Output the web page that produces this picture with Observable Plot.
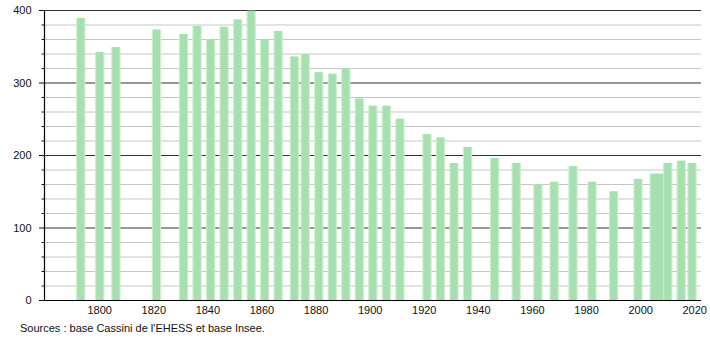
<!DOCTYPE html>
<html>
<head>
<meta charset="utf-8">
<script src="https://cdn.jsdelivr.net/npm/d3@7"></script>
<script src="https://cdn.jsdelivr.net/npm/@observablehq/plot@0.6"></script>
<style>
  body { margin: 0; background: #fff; font-family: "Liberation Sans", Arial, sans-serif; }
  #caption { font-size: 11px; color: #111; margin: 1px 0 0 20px; line-height: 14px; }
</style>
</head>
<body>
<div id="chart"></div>
<div id="caption">Sources : base Cassini de l'EHESS et base Insee.</div>
<script>
const years = [1793,1800,1806,1821,1831,1836,1841,1846,1851,1856,1861,1866,1872,1876,1881,1886,1891,1896,1901,1906,1911,1921,1926,1931,1936,1946,1954,1962,1968,1975,1982,1990,1999,2005,2007,2010,2015,2019];
const population = [389,342,349,373,367,378,360,377,387,399,359,371,336,339,314,312,320,278,268,268,250,229,224,189,211,196,189,160,163,185,163,150,167,174,174,189,192,189];
const majorTicks = [0,100,200,300,400];
const minorTicks = [20,40,60,80,120,140,160,180,220,240,260,280,320,340,360,380];
const xTicks = [1800,1820,1840,1860,1880,1900,1920,1940,1960,1980,2000,2020];

const data = years.map((y, i) => ({year: y, pop: population[i]}));
const xDomain = [1779.6, 2022.5];

const chart = Plot.plot({
  width: 710,
  height: 320,
  marginLeft: 44,
  marginRight: 9,
  marginTop: 10,
  marginBottom: 20,
  style: {fontFamily: "Liberation Sans, Arial, sans-serif", fontSize: "11px", color: "#111", background: "#fff"},
  x: {type: "linear", domain: xDomain},
  y: {type: "linear", domain: [0, 400]},
  marks: [
    Plot.ruleY(minorTicks, {stroke: "#c6c6c6", strokeWidth: 1}),
    Plot.ruleY(majorTicks.filter(d => d > 0), {stroke: "#333", strokeWidth: 1}),
    Plot.ruleX(data, {x: "year", y1: 0, y2: "pop", stroke: "#c4f0c4", strokeWidth: 9.5, strokeOpacity: 0.9}),
    Plot.ruleX(data, {x: "year", y1: 0, y2: "pop", stroke: "#a7dfb1", strokeWidth: 7}),
    Plot.ruleY([0], {stroke: "#000", strokeWidth: 1.2}),
    Plot.ruleX([xDomain[0]], {stroke: "#000", strokeWidth: 1.2}),
    Plot.axisX({ticks: xTicks, tickFormat: d => String(d), tickSize: 0, tickPadding: 6, label: null}),
    Plot.axisY({ticks: majorTicks, tickSize: 5, tickPadding: 8, label: null}),
    Plot.axisY({ticks: minorTicks, tickSize: 2.5, tickFormat: () => "", label: null})
  ]
});
document.getElementById("chart").appendChild(chart);
</script>
</body>
</html>
